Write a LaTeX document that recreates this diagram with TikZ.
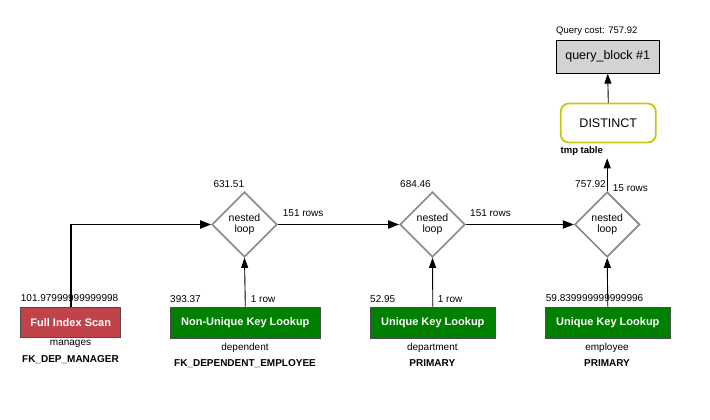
\documentclass[tikz,border=0pt]{standalone}
\usepackage{fontspec}
\setmainfont{Liberation Sans}
\usetikzlibrary{shapes.geometric,arrows.meta}
\definecolor{scanred}{RGB}{192,67,74}
\definecolor{lookgreen}{RGB}{0,128,0}
\definecolor{distyel}{RGB}{200,200,20}
\definecolor{qbgray}{RGB}{211,211,211}
\definecolor{diagray}{RGB}{136,136,136}
\tikzset{
  opbox/.style={draw=black!70, line width=0.8pt, minimum height=31pt, inner sep=0pt,
    text=white, font=\fontsize{11}{13}\selectfont\bfseries},
  redbox/.style={opbox, fill=scanred, minimum height=30pt},
  greenbox/.style={opbox, fill=lookgreen},
  loopdia/.style={diamond, draw=diagray, line width=1.6pt, minimum width=65pt, minimum height=65pt,
    inner sep=0pt, align=center, font=\fontsize{10.5}{10.5}\selectfont},
  lbl/.style={inner sep=0pt, font=\fontsize{10}{12}\selectfont},
  blbl/.style={inner sep=0pt, font=\fontsize{10}{12}\selectfont\bfseries},
  mainflow/.style={line width=1.8pt, -{Triangle[length=11pt,width=8pt]}},
  subflow/.style={line width=0.9pt, -{Triangle[length=10pt,width=7pt]}},
}
\begin{document}
\begin{tikzpicture}[x=1pt,y=-1pt]
\useasboundingbox (0,0) rectangle (710,420);
% operation boxes
\node[redbox, minimum width=100pt] (fis) at (70.7,322.3) {Full Index Scan};
\node[greenbox, minimum width=150.7pt] (nul) at (245.3,322.5) {Non-Unique Key Lookup};
\node[greenbox, minimum width=125.7pt] (ukl1) at (432.8,322.5) {Unique Key Lookup};
\node[greenbox, minimum width=125.7pt] (ukl2) at (607.8,322.5) {Unique Key Lookup};
% nested loops
\node[loopdia] (d1) at (244.5,224.5) {nested\\loop};
\node[loopdia] (d2) at (432.5,224.5) {nested\\loop};
\node[loopdia] (d3) at (607.2,224.5) {nested\\loop};
% distinct and query block
\node[draw=distyel, line width=1.8pt, rounded corners=8pt, minimum width=95pt, minimum height=39pt,
  font=\fontsize{12.5}{14}\selectfont] (dist) at (608.3,123) {DISTINCT};
\node[draw=black, line width=0.9pt, fill=qbgray, minimum width=103pt, minimum height=33pt,
  font=\fontsize{12.5}{14}\selectfont] (qb) at (607.7,56.7) {query\_block \#1};
\coordinate (tmpend) at (607.2,158.3);
% connectors
\draw[mainflow] (fis.north) |- (d1.west);
\draw[mainflow] (d1.east) -- (d2.west);
\draw[mainflow] (d2.east) -- (d3.west);
\draw[subflow] (nul.north) -- (d1.south);
\draw[subflow] (ukl1.north) -- (d2.south);
\draw[subflow] (ukl2.north) -- (d3.south);
\draw[subflow] (d3.north) -- (tmpend);
\draw[subflow] (dist.north) -- (qb.south);
% labels
\node[lbl, anchor=west, font=\fontsize{9.5}{11}\selectfont] (qcost) at (556,31) {Query cost: 757.92};
\node[blbl, anchor=west, font=\fontsize{9.5}{11}\selectfont\bfseries] (tmpt) at (560.5,150.7) {tmp table};
\node[lbl, anchor=west] (c1) at (213.3,184) {631.51};
\node[lbl, anchor=west] (r1) at (282.7,213.5) {151 rows};
\node[lbl, anchor=west] (c2) at (400,184) {684.46};
\node[lbl, anchor=west] (r2) at (470,213.5) {151 rows};
\node[lbl, anchor=west] (c3) at (575,184) {757.92};
\node[lbl, anchor=west] (r3) at (612.7,188.5) {15 rows};
\node[lbl, anchor=west] (cfis) at (20.7,298.3) {101.97999999999998};
\node[lbl, anchor=west] (cnul) at (170,298.8) {393.37};
\node[lbl, anchor=west] (rnul) at (250.7,298.8) {1 row};
\node[lbl, anchor=west] (cuk1) at (370,298.8) {52.95};
\node[lbl, anchor=west] (ruk1) at (437.7,298.8) {1 row};
\node[lbl, anchor=west] (cuk2) at (545.7,298.3) {59.839999999999996};
\node[lbl] (tfis) at (70.5,344.3) {manages};
\node[blbl] (kfis) at (70.5,359.3) {FK\_DEP\_MANAGER};
\node[lbl] (tnul) at (245,348.3) {dependent};
\node[blbl] (knul) at (245,363.3) {FK\_DEPENDENT\_EMPLOYEE};
\node[lbl] (tuk1) at (432.3,348.3) {department};
\node[blbl] (kuk1) at (432.3,363.3) {PRIMARY};
\node[lbl] (tuk2) at (607,348.3) {employee};
\node[blbl] (kuk2) at (607,363.3) {PRIMARY};
\end{tikzpicture}
\end{document}
